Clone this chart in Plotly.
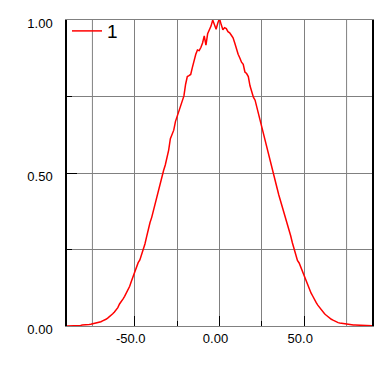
import plotly.graph_objects as go

# Data (x from -90 to 90, step 1)
x_values = list(range(-90, 91))
y_values = [
    0.000, 0.000, 0.001, 0.001, 0.001, 0.001, 0.002, 0.002, 0.002, 0.003,  # -90..-81
    0.003, 0.004, 0.004, 0.005, 0.006, 0.007, 0.008, 0.010, 0.011, 0.013,  # -80..-71
    0.014, 0.017, 0.019, 0.022, 0.026, 0.030, 0.035, 0.040, 0.046, 0.053,  # -70..-61
    0.060, 0.072, 0.079, 0.088, 0.097, 0.107, 0.118, 0.130, 0.146, 0.162,  # -60..-51
    0.172, 0.190, 0.207, 0.216, 0.232, 0.250, 0.268, 0.292, 0.318, 0.338,  # -50..-41
    0.355, 0.378, 0.400, 0.420, 0.443, 0.470, 0.493, 0.508, 0.526, 0.548,  # -40..-31
    0.575, 0.612, 0.625, 0.640, 0.668, 0.685, 0.700, 0.712, 0.728, 0.752,  # -30..-21
    0.790, 0.815, 0.818, 0.822, 0.845, 0.869, 0.888, 0.902, 0.900, 0.910,  # -20..-11
    0.925, 0.948, 0.918, 0.955, 0.967, 0.980, 1.000, 0.982, 0.970, 0.990,  # -10..-1
    1.005,                                                                 # 0
    0.985, 0.968, 0.975, 0.972, 0.962, 0.958, 0.950, 0.942, 0.925, 0.905,  # 1..10
    0.888, 0.876, 0.862, 0.855, 0.830, 0.825, 0.815, 0.785, 0.762, 0.748,  # 11..20
    0.738, 0.715, 0.697, 0.675, 0.652, 0.628, 0.605, 0.582, 0.560, 0.540,  # 21..30
    0.515, 0.494, 0.472, 0.450, 0.428, 0.410, 0.390, 0.373, 0.355, 0.336,  # 31..40
    0.318, 0.295, 0.272, 0.254, 0.232, 0.214, 0.206, 0.192, 0.175, 0.158,  # 41..50
    0.145, 0.133, 0.121, 0.108, 0.098, 0.086, 0.077, 0.068, 0.060, 0.055,  # 51..60
    0.047, 0.040, 0.035, 0.030, 0.026, 0.022, 0.019, 0.016, 0.013, 0.011,  # 61..70
    0.010, 0.009, 0.008, 0.006, 0.005, 0.005, 0.004, 0.004, 0.003, 0.003,  # 71..80
    0.003, 0.003, 0.002, 0.002, 0.002, 0.002, 0.002, 0.001, 0.001, 0.001,  # 81..90
]
series_name = "1"

x_major_ticks = [-50, 0, 50]
x_major_labels = ["-50.0", "0.00", "50.0"]
x_minor_ticks = [-25, 25]
x_extra_grid = [-75, 75]
y_major_ticks = [0, 0.5, 1.0]
y_major_labels = ["0.00", "0.50", "1.00"]
y_minor_ticks = [0.25, 0.75]

GRID = "#808080"
FONT = "Liberation Sans, Arial, sans-serif"

fig = go.Figure()
fig.add_trace(go.Scatter(
    x=x_values, y=y_values, mode="lines", name=series_name,
    line=dict(color="#ff0000", width=1.5),
))

for gx in x_extra_grid:
    fig.add_shape(type="line", xref="x", yref="paper", x0=gx, x1=gx, y0=0, y1=1,
                  line=dict(color=GRID, width=1), layer="below")

fig.update_layout(
    width=392, height=366,
    margin=dict(l=59, r=28, t=12, b=48, autoexpand=False),
    paper_bgcolor="white", plot_bgcolor="white",
    font=dict(family=FONT, size=13, color="#000000"),
    showlegend=True,
    legend=dict(x=0.0, y=1.026, xanchor="left", yanchor="top",
                bgcolor="rgba(0,0,0,0)", font=dict(size=19, color="#000000"),
                itemwidth=30),
)
fig.update_xaxes(
    range=[-90, 90], tickmode="array", tickvals=x_major_ticks, ticktext=x_major_labels,
    ticks="inside", ticklen=10, tickcolor="#000000", tickwidth=1,
    showgrid=True, gridcolor=GRID, gridwidth=1, zeroline=False,
    showline=True, linecolor=GRID, linewidth=1, mirror=True,
    ticklabelshift=-4, ticklabelstandoff=0,
    minor=dict(tickmode="array", tickvals=x_minor_ticks, ticks="inside", ticklen=5,
               tickcolor="#000000", showgrid=True, gridcolor=GRID, gridwidth=1),
)
fig.update_yaxes(
    range=[0, 1], tickmode="array", tickvals=y_major_ticks, ticktext=y_major_labels,
    ticks="inside", ticklen=10, tickcolor="#000000", tickwidth=1,
    showgrid=True, gridcolor=GRID, gridwidth=1, zeroline=False,
    showline=True, linecolor="#000000", linewidth=1.5, mirror=True,
    ticklabelshift=3, ticklabelstandoff=10,
    minor=dict(tickmode="array", tickvals=y_minor_ticks, ticks="inside", ticklen=5,
               tickcolor="#000000", showgrid=True, gridcolor=GRID, gridwidth=1),
)

fig.write_html("out.html")
